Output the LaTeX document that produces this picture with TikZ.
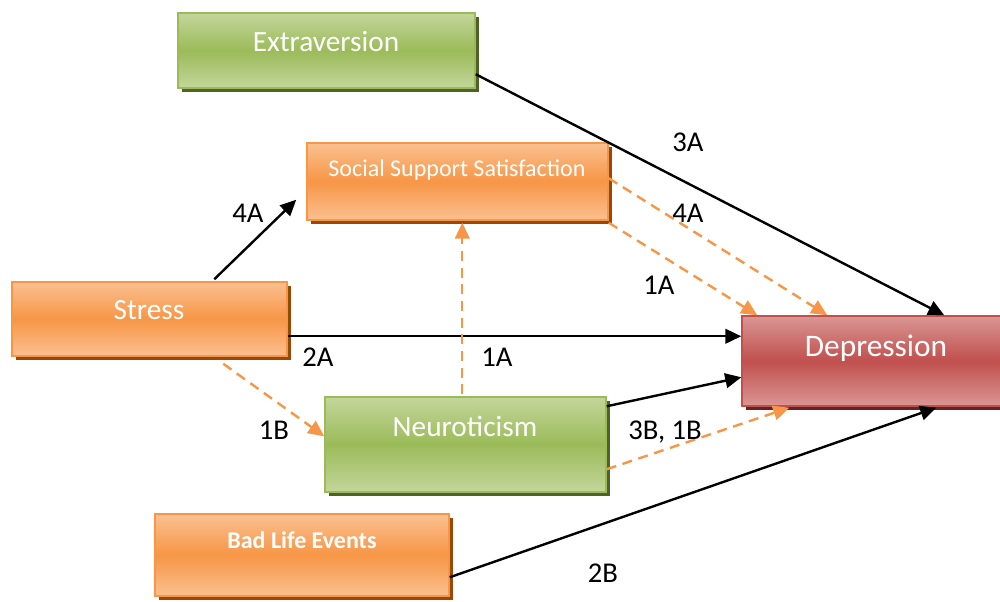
\documentclass[tikz,border=0pt]{standalone}
\usepackage{fontspec}
\setmainfont{Carlito}
\usetikzlibrary{arrows.meta,calc,fit,shadows}
\definecolor{orL}{HTML}{FAC090}
\definecolor{orM}{HTML}{F79646}
\definecolor{orS}{HTML}{984807}
\definecolor{grL}{HTML}{C3D69B}
\definecolor{grM}{HTML}{9BBB59}
\definecolor{grS}{HTML}{4F6228}
\definecolor{rdL}{HTML}{DA9694}
\definecolor{rdM}{HTML}{C0504D}
\definecolor{rdS}{HTML}{632523}
\tikzset{
  boxbase/.style={rectangle, inner sep=0pt, line width=1.1pt},
  orbox/.style={boxbase, draw=orM, top color=orL, bottom color=orL, middle color=orM,
    general shadow={fill=orS, shadow xshift=3pt, shadow yshift=-3pt}},
  grbox/.style={boxbase, draw=grM, top color=grL, bottom color=grL, middle color=grM,
    general shadow={fill=grS, shadow xshift=3pt, shadow yshift=-3pt}},
  rdbox/.style={boxbase, draw=rdM, top color=rdL, bottom color=rdL, middle color=rdM,
    general shadow={fill=rdS, shadow xshift=3pt, shadow yshift=-3pt}},
  boxtext/.style={anchor=base, text=white, inner sep=0pt},
  lbl/.style={anchor=base, text=black, inner sep=0pt, font=\fontsize{21.5}{25}\selectfont},
  solidarrow/.style={draw=black, line width=1.8pt, -{Triangle[length=12pt,width=11pt]}},
  dasharrow/.style={draw=orM, line width=1.8pt, dash pattern=on 7.5pt off 5pt, -{Triangle[length=12pt,width=11pt]}},
}
\begin{document}
\begin{tikzpicture}[x=0.75pt,y=-0.75pt]
\useasboundingbox (0,0) rectangle (1000,602);
% boxes
\node[grbox, fit={(178,13) (475,88)}] (ext) {};
\node[orbox, fit={(307,143) (608,220)}] (sss) {};
\node[orbox, fit={(12,282) (287,356)}] (str) {};
\node[rdbox, fit={(742,316) (1012,406)}] (dep) {};
\node[grbox, fit={(325,397) (606,492)}] (neu) {};
\node[orbox, fit={(155,514) (449,596)}] (ble) {};
% box texts
\node[boxtext, font=\fontsize{22}{26}\selectfont] (extT) at (326,52) {Extraversion};
\node[boxtext, font=\fontsize{18}{22}\selectfont] (sssT) at (457,177) {Social Support Satisfaction};
\node[boxtext, font=\fontsize{22}{26}\selectfont] (strT) at (149,320) {Stress};
\node[boxtext, font=\fontsize{23.5}{28}\selectfont] (depT) at (876,357) {Depression};
\node[boxtext, font=\fontsize{22}{26}\selectfont] (neuT) at (465,436) {Neuroticism};
\node[boxtext, font=\bfseries\fontsize{18}{22}\selectfont] (bleT) at (302,548) {Bad Life Events};
% connectors
\draw[solidarrow] ($(ext.north east)+(0,62)$) -- ($(dep.north west)+(203,0)$);
\draw[solidarrow] ($(str.north west)+(203,-2)$) -- ($(sss.south west)+(-10,-21)$);
\draw[solidarrow] ($(str.north east)+(0,55)$) -- ($(dep.north west)+(0,21)$);
\draw[dasharrow] ($(str.south west)+(212,7)$) -- ($(neu.north west)+(0,40)$);
\draw[dasharrow] ($(neu.north west)+(138,-2)$) -- ($(sss.south west)+(156,2)$);
\draw[dasharrow] ($(sss.north east)+(0,36)$) -- ($(dep.north west)+(86,0)$);
\draw[dasharrow] ($(sss.south east)+(0,2)$) -- ($(dep.north west)+(16,0)$);
\draw[solidarrow] ($(neu.north east)+(0,10)$) -- ($(dep.north west)+(0,62)$);
\draw[dasharrow] ($(neu.north east)+(0,73)$) -- ($(dep.south west)+(48,1)$);
\draw[solidarrow] ($(ble.north east)+(0,64)$) -- ($(dep.south west)+(195,1)$);
% labels
\node[lbl] (l3A) at (688,152) {3A};
\node[lbl] (l4Aa) at (248,223) {4A};
\node[lbl] (l4Ab) at (688,223) {4A};
\node[lbl] (l1Aa) at (659,295) {1A};
\node[lbl] (l2A) at (318,367) {2A};
\node[lbl] (l1Ab) at (497,367) {1A};
\node[lbl] (l1B) at (274,439) {1B};
\node[lbl] (l3B1B) at (665,439) {3B, 1B};
\node[lbl] (l2B) at (603,582) {2B};
\end{tikzpicture}
\end{document}
